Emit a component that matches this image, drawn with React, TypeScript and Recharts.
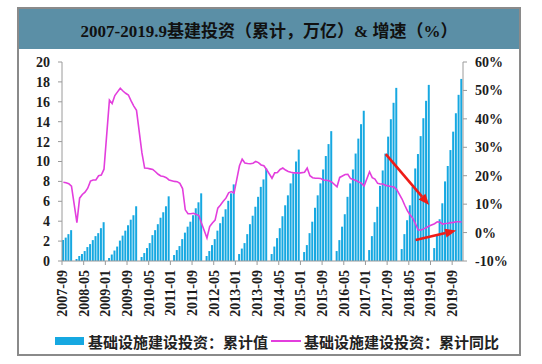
import React from 'react';
import { ComposedChart, Bar, Line, XAxis, YAxis, ReferenceLine, Legend } from 'recharts';

// cumulative infrastructure investment (万亿), Jan is not reported -> null
const inv2007 = [2.1, 2.35, 2.7, 3.1]; // Sep-Dec
const inv2008 = [null, 0.2, 0.5, 0.7, 1.0, 1.4, 1.7, 2.1, 2.5, 2.8, 3.3, 3.9];
const inv2009 = [null, 0.3, 0.65, 1.05, 1.45, 2.05, 2.55, 3.05, 3.6, 4.15, 4.6, 5.5];
const inv2010 = [null, 0.4, 0.8, 1.3, 1.8, 2.6, 3.1, 3.7, 4.35, 4.9, 5.5, 6.5];
const inv2011 = [null, 0.6, 1.1, 1.5, 2.2, 2.85, 3.45, 3.95, 4.6, 5.3, 5.9, 6.8];
const inv2012 = [null, 0.5, 1.0, 1.6, 2.2, 3.05, 3.8, 4.45, 5.2, 6.05, 6.8, 7.7];
const inv2013 = [null, 0.7, 1.25, 1.8, 2.7, 3.7, 4.55, 5.45, 6.45, 7.45, 8.2, 9.3];
const inv2014 = [null, 0.7, 1.45, 2.3, 3.3, 4.5, 5.6, 6.6, 7.8, 8.8, 10.0, 11.2];
const inv2015 = [null, 0.9, 1.6, 2.8, 3.95, 5.35, 6.6, 7.8, 9.2, 10.55, 11.75, 13.05];
const inv2016 = [null, 1.0, 2.1, 3.45, 4.7, 6.45, 7.8, 9.2, 10.8, 12.3, 13.75, 15.1];
const inv2017 = [null, 1.1, 2.5, 3.9, 5.45, 7.55, 9.1, 10.8, 12.5, 14.25, 15.9, 17.4];
const inv2018 = [null, 1.2, 2.7, 4.1, 5.6, 7.45, 9.3, 10.75, 12.55, 14.35, 16.1, 17.7];
const inv2019 = [null, 1.3, 2.7, 4.2, 5.8, 8.0, 9.55, 11.15, 13.0, 14.85, 16.7, 18.3];

// cumulative YoY growth (%)
const yoy2007 = [17.7, 17.5, 17.2, 16.3];
const yoy2008 = [null, 3.5, 12.1, 13.4, 14.2, 15.6, 18.1, 18.5, 18.5, 20.0, 20.2, 22.3];
const yoy2009 = [null, 46.6, 45.4, 48.2, 49.5, 50.8, 49.8, 49.0, 48.4, 46.3, 44.5, 43.0];
const yoy2010 = [null, 28.0, 22.7, 22.6, 22.4, 22.2, 21.4, 20.5, 19.9, 19.7, 19.3, 18.5];
const yoy2011 = [null, 18.0, 17.9, 17.3, 15.5, 8.0, 6.6, 6.6, 6.8, 6.4, 6.0, 3.3];
const yoy2012 = [null, -1.9, 2.1, 3.4, 4.4, 8.6, 9.7, 11.0, 12.1, 14.0, 14.4, 13.9];
const yoy2013 = [null, 23.5, 25.8, 24.5, 24.3, 24.2, 24.4, 25.0, 24.6, 23.8, 23.5, 22.2];
const yoy2014 = [null, 19.1, 21.0, 21.1, 22.2, 22.7, 22.0, 21.5, 21.2, 21.0, 21.0, 20.9];
const yoy2015 = [null, 21.2, 22.7, 20.0, 19.3, 19.1, 19.1, 19.0, 18.5, 18.4, 18.2, 17.8];
const yoy2016 = [null, 16.1, 19.4, 19.9, 20.4, 20.5, 19.0, 18.7, 18.3, 17.8, 17.4, 16.4];
const yoy2017 = [null, 21.4, 19.3, 18.8, 17.3, 17.1, 17.1, 16.6, 16.4, 16.2, 16.0, 15.2];
const yoy2018 = [null, 11.8, 9.6, 7.6, 6.2, 5.0, 3.0, 0.9, 0.9, 1.3, 1.8, 2.3];
const yoy2019 = [null, 3.1, 3.8, 3.6, 3.0, 3.2, 3.3, 3.5, 3.6, 3.8, 3.8, 3.7];

const xTicks = [
  '2007-09', '2008-05', '2009-01', '2009-09', '2010-05', '2011-01', '2011-09',
  '2012-05', '2013-01', '2013-09', '2014-05', '2015-01', '2015-09', '2016-05',
  '2017-01', '2017-09', '2018-05', '2019-01', '2019-09',
];
const leftTicks = [0, 2, 4, 6, 8, 10, 12, 14, 16, 18, 20];
const rightTicks = [-10, 0, 10, 20, 30, 40, 50, 60];

// red annotation arrows: [start, end] on month / growth axis
const arrowDown = [{ x: '2017-08', y: 27.6 }, { x: '2018-12', y: 9.7 }];
const arrowUp = [{ x: '2018-07', y: -2.6 }, { x: '2019-10', y: 0.7 }];

const years: [number, number, (number | null)[], (number | null)[]][] = [
  [2007, 9, inv2007, yoy2007],
  [2008, 1, inv2008, yoy2008],
  [2009, 1, inv2009, yoy2009],
  [2010, 1, inv2010, yoy2010],
  [2011, 1, inv2011, yoy2011],
  [2012, 1, inv2012, yoy2012],
  [2013, 1, inv2013, yoy2013],
  [2014, 1, inv2014, yoy2014],
  [2015, 1, inv2015, yoy2015],
  [2016, 1, inv2016, yoy2016],
  [2017, 1, inv2017, yoy2017],
  [2018, 1, inv2018, yoy2018],
  [2019, 1, inv2019, yoy2019],
];

const data = years.flatMap(([year, first, inv, yoy]) =>
  inv.map((v, i) => ({
    month: `${year}-${String(first + i).padStart(2, '0')}`,
    inv: v,
    yoy: yoy[i],
  })),
);

const W = 542;
const H = 364;
const PLOT_LEFT = 62;
const PLOT_RIGHT = 463;
const BAND = (PLOT_RIGHT - PLOT_LEFT) / data.length;

const BAR_COLOR = '#16A8E1';
const LINE_COLOR = '#E33EDD';
const AXIS_COLOR = '#9a9a9a';
const tickFont = { fontFamily: '"Liberation Serif", serif', fontWeight: 700, fontSize: 14, fill: '#1c1c1c' };

function XTick({ x, y, payload }: any) {
  const tx = x - BAND / 2; // Excel puts the label on the category's left edge
  return (
    <g>
      <line x1={tx} y1={y - 9} x2={tx} y2={y - 5} stroke={AXIS_COLOR} />
      <text x={tx} y={y} dy="0.35em" textAnchor="end" transform={`rotate(-90 ${tx} ${y})`} {...tickFont}>
        {payload.value}
      </text>
    </g>
  );
}

function Arrow({ x1, y1, x2, y2 }: any) {
  const a = Math.atan2(y2 - y1, x2 - x1);
  const len = 11;
  const w = 4.5;
  const bx = x2 - len * Math.cos(a);
  const by = y2 - len * Math.sin(a);
  const pts = `${x2},${y2} ${bx + w * Math.sin(a)},${by - w * Math.cos(a)} ${bx - w * Math.sin(a)},${by + w * Math.cos(a)}`;
  return (
    <g>
      <line x1={x1} y1={y1} x2={bx} y2={by} stroke="#EE1C18" strokeWidth={2.6} />
      <polygon points={pts} fill="#EE1C18" />
    </g>
  );
}

function LegendBox() {
  const txt = { fontFamily: '"Noto Sans CJK SC", sans-serif', fontWeight: 700, fontSize: 15, color: '#222', whiteSpace: 'nowrap' as const };
  return (
    <div style={{ display: 'flex', alignItems: 'center', height: 20, paddingLeft: 55 }}>
      <span style={{ display: 'inline-block', width: 29, height: 8, background: BAR_COLOR, marginRight: 4 }} />
      <span style={txt}>基础设施建设投资：累计值</span>
      <span style={{ display: 'inline-block', width: 30, height: 2, background: LINE_COLOR, margin: '0 3px' }} />
      <span style={txt}>基础设施建设投资：累计同比</span>
    </div>
  );
}

export default function App() {
  return (
    <div style={{ position: 'absolute', left: 0, top: 0, width: W, height: H, background: '#fff' }}>
      <div
        style={{
          position: 'absolute', left: 17, top: 7, width: 504, height: 349,
          border: '2px solid #8a8a8a', boxSizing: 'border-box',
        }}
      />
      <div
        style={{
          position: 'absolute', left: 19, top: 9, width: 500, height: 40, background: '#5B8FA6',
          display: 'flex', alignItems: 'center', justifyContent: 'center',
          fontFamily: '"Liberation Serif", "Noto Sans CJK SC", serif', fontWeight: 700, fontSize: 17, color: '#111',
        }}
      >
        2007-2019.9基建投资（累计，万亿）& 增速（%）
      </div>
      <div style={{ position: 'absolute', left: 0, top: 0 }}>
        <ComposedChart width={W} height={H} data={data} margin={{ top: 62, right: 0, bottom: 43, left: 0 }}>
          <XAxis
            dataKey="month"
            ticks={xTicks}
            interval={0}
            height={60}
            tickSize={4}
            tickMargin={5}
            tickLine={false}
            axisLine={{ stroke: AXIS_COLOR }}
            tick={<XTick />}
          />
          <YAxis
            yAxisId="left"
            domain={[0, 20]}
            ticks={leftTicks}
            width={62}
            tickSize={4}
            tickMargin={8}
            axisLine={{ stroke: AXIS_COLOR }}
            tickLine={{ stroke: AXIS_COLOR }}
            tick={tickFont}
            interval={0}
          />
          <YAxis
            yAxisId="right"
            orientation="right"
            domain={[-10, 60]}
            ticks={rightTicks}
            width={79}
            tickSize={4}
            tickMargin={8}
            axisLine={{ stroke: AXIS_COLOR }}
            tickLine={{ stroke: AXIS_COLOR }}
            tick={{ ...tickFont, textAnchor: 'start' }}
            tickFormatter={(v: number) => `${v}%`}
            interval={0}
          />
          <Bar yAxisId="left" dataKey="inv" fill={BAR_COLOR} barSize={2} isAnimationActive={false} />
          <Line
            yAxisId="right"
            dataKey="yoy"
            type="linear"
            stroke={LINE_COLOR}
            strokeWidth={1.6}
            dot={false}
            connectNulls
            isAnimationActive={false}
          />
          <ReferenceLine yAxisId="right" segment={arrowDown} ifOverflow="visible" shape={<Arrow />} />
          <ReferenceLine yAxisId="right" segment={arrowUp} ifOverflow="visible" shape={<Arrow />} />
          <Legend
            layout="horizontal"
            verticalAlign="middle"
            align="center"
            wrapperStyle={{ top: 331, left: 0, width: W }}
            content={() => <LegendBox />}
          />
        </ComposedChart>
      </div>
    </div>
  );
}
